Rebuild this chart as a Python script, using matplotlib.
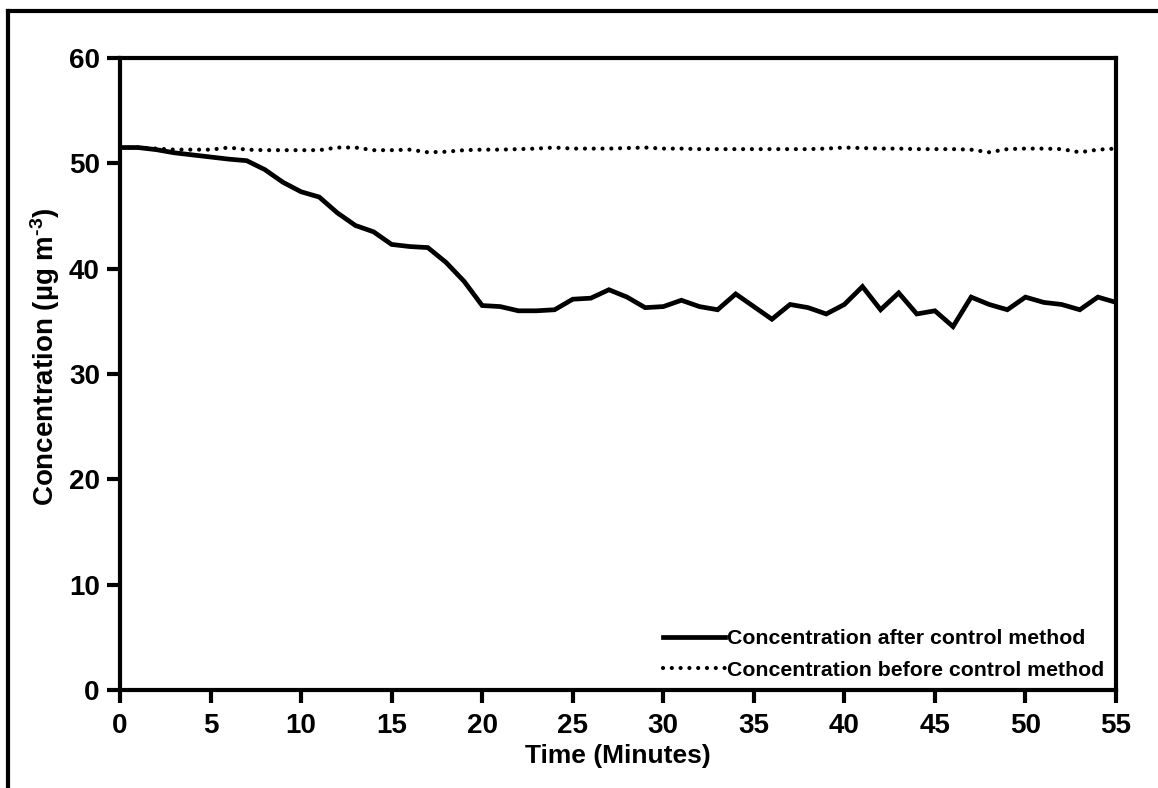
import matplotlib
matplotlib.use("Agg")
import matplotlib.pyplot as plt
from matplotlib.lines import Line2D

plt.rcParams['font.family'] = ['Liberation Sans', 'DejaVu Sans']
plt.rcParams['font.weight'] = 'bold'
plt.rcParams['mathtext.fontset'] = 'custom'
plt.rcParams['mathtext.rm'] = 'Liberation Sans:bold'
plt.rcParams['mathtext.bf'] = 'Liberation Sans:bold'
plt.rcParams['mathtext.it'] = 'Liberation Sans:bold'

minutes = list(range(0, 56))
after_control = [
    51.5, 51.5, 51.3, 51.0, 50.8, 50.6, 50.4, 50.25, 49.4, 48.2,
    47.3, 46.8, 45.3, 44.1, 43.5, 42.3, 42.1, 42.0, 40.6, 38.8,
    36.5, 36.4, 36.0, 36.0, 36.1, 37.1, 37.2, 38.0, 37.3, 36.3,
    36.4, 37.0, 36.4, 36.1, 37.6, 36.4, 35.2, 36.6, 36.3, 35.7,
    36.6, 38.3, 36.1, 37.7, 35.7, 36.0, 34.5, 37.3, 36.6, 36.1,
    37.3, 36.8, 36.6, 36.1, 37.3, 36.8]
before_control = [
    51.5, 51.5, 51.4, 51.3, 51.3, 51.3, 51.5, 51.3, 51.25, 51.25,
    51.25, 51.25, 51.5, 51.5, 51.25, 51.25, 51.3, 51.05, 51.1, 51.25,
    51.3, 51.3, 51.35, 51.4, 51.5, 51.4, 51.4, 51.4, 51.45, 51.5,
    51.4, 51.4, 51.35, 51.35, 51.35, 51.35, 51.35, 51.35, 51.35, 51.4,
    51.5, 51.45, 51.4, 51.4, 51.35, 51.35, 51.35, 51.3, 51.05, 51.35,
    51.4, 51.4, 51.35, 51.05, 51.3, 51.4]
x_ticks = [0, 5, 10, 15, 20, 25, 30, 35, 40, 45, 50, 55]
y_ticks = [0, 10, 20, 30, 40, 50, 60]
labels = ['Concentration after control method', 'Concentration before control method']

W, H = 1158, 788
fig = plt.figure(figsize=(W / 100, H / 100), dpi=100)
ax = fig.add_axes([120 / W, 1 - 690 / H, (1116 - 120) / W, (690 - 58) / H])

ax.plot(minutes, after_control, color='black', lw=3.4, solid_joinstyle='miter', label=labels[0])
ax.plot(minutes, before_control, color='black', lw=3.0, linestyle=(0, (0.01, 2.1)),
        dash_capstyle='round', label=labels[1])

ax.set_xlim(0, 55)
ax.set_ylim(0, 60)
ax.set_xticks(x_ticks)
ax.set_yticks(y_ticks)
for s in ax.spines.values():
    s.set_linewidth(3)
ax.tick_params(direction='out', length=9.5, width=3, labelsize=20)
ax.tick_params(axis='x', pad=7)
ax.tick_params(axis='y', pad=5)
for t in ax.get_xticklabels() + ax.get_yticklabels():
    t.set_fontweight('bold')

ax.set_xlabel('Time (Minutes)', fontsize=19, fontweight='bold', labelpad=4)
ax.set_ylabel('Concentration (µg m$^{\\text{-}3}$)', fontsize=20, fontweight='bold')
ax.yaxis.set_label_coords(-0.058, 0.528)

leg = ax.legend(loc='upper left', bbox_to_anchor=((663 - 120) / 996, (690 - 629) / 632),
                frameon=False, fontsize=15.3, handlelength=2.92, handletextpad=0.1,
                borderpad=0, borderaxespad=0, labelspacing=0.6)
for t in leg.get_texts():
    t.set_fontweight('bold')

# outer frame (top and left edges)
fig.add_artist(Line2D([8 / W, 1.0], [1 - 11 / H, 1 - 11 / H], color='black', lw=3,
                      transform=fig.transFigure))
fig.add_artist(Line2D([8 / W, 8 / W], [1 - 11 / H, 0.0], color='black', lw=3,
                      transform=fig.transFigure))

fig.savefig('out.png', dpi=100)
